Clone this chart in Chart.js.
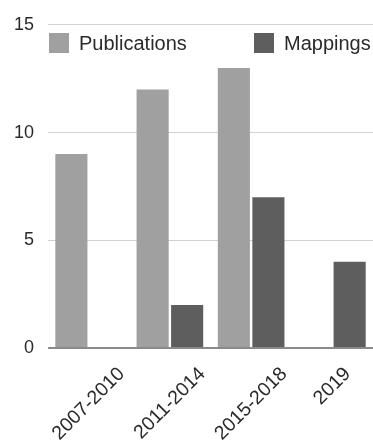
<!DOCTYPE html>
<html>
<head>
<meta charset="utf-8">
<script src="https://cdn.jsdelivr.net/npm/chart.js@4.4.1/dist/chart.umd.min.js"></script>
<style>
    html, body { margin: 0; padding: 0; background: #fff; overflow: hidden; }
    #wrap { width: 373px; height: 446px; }
</style>
</head>
<body>
<div id="wrap"><canvas id="chart"></canvas></div>
<script>
// Data
const periods = ["2007-2010", "2011-2014", "2015-2018", "2019"];
const publications = [9, 12, 13, 0];
const mappings = [0, 2, 7, 4];

const FONT = '"Liberation Sans", Arial, sans-serif';
const TEXT = "#2a2a2a";

Chart.defaults.font.family = FONT;

// Rotated labels, centred under each category (drawn at the x scale's tick positions)
const xLabelPlugin = {
    id: "xLabels",
    afterDraw(chart) {
        const { ctx, chartArea } = chart;
        const x = chart.scales.x;
        ctx.save();
        ctx.font = "19.5px " + FONT;
        ctx.fillStyle = TEXT;
        ctx.textAlign = "center";
        ctx.textBaseline = "middle";
        x.getLabels().forEach((label, i) => {
            const px = x.getPixelForTick(i);
            const w = ctx.measureText(label).width;
            const half = (w + 14) / (2 * Math.SQRT2);
            ctx.save();
            ctx.translate(px, chartArea.bottom + 18 + half);
            ctx.rotate(-Math.PI / 4);
            ctx.fillText(label, 0, 0);
            ctx.restore();
        });
        ctx.restore();
    }
};

// Legend drawn inside the plot area
const legendPlugin = {
    id: "insideLegend",
    afterDraw(chart) {
        const { ctx } = chart;
        const xs = [49, 254];
        ctx.save();
        ctx.font = "20px " + FONT;
        ctx.textBaseline = "middle";
        chart.data.datasets.forEach((ds, i) => {
            ctx.fillStyle = ds.backgroundColor;
            ctx.fillRect(xs[i], 33, 20, 20);
            ctx.fillStyle = TEXT;
            ctx.fillText(ds.label, xs[i] + 30, 44);
        });
        ctx.restore();
    }
};

new Chart(document.getElementById("chart"), {
    type: "bar",
    data: {
        labels: periods,
        datasets: [
            { label: "Publications", data: publications, backgroundColor: "#a0a0a0" },
            { label: "Mappings", data: mappings, backgroundColor: "#5e5e5e" }
        ]
    },
    options: {
        responsive: true,
        maintainAspectRatio: false,
        animation: false,
        categoryPercentage: 0.85,
        barPercentage: 0.93,
        layout: { padding: { left: 0, top: 22, right: 0, bottom: 90 } },
        plugins: {
            legend: { display: false },
            tooltip: { enabled: false }
        },
        scales: {
            x: {
                grid: { display: false },
                border: { display: false },
                ticks: { display: false }
            },
            y: {
                min: 0,
                max: 15,
                border: { display: false },
                grid: {
                    drawTicks: false,
                    color: (c) => (c.tick && c.tick.value === 0 ? "#8a8a8a" : "#d2d2d2"),
                    lineWidth: (c) => (c.tick && c.tick.value === 0 ? 2 : 1)
                },
                ticks: {
                    stepSize: 5,
                    padding: 14,
                    color: TEXT,
                    font: { size: 18 }
                }
            }
        }
    },
    plugins: [xLabelPlugin, legendPlugin]
});
</script>
</body>
</html>
